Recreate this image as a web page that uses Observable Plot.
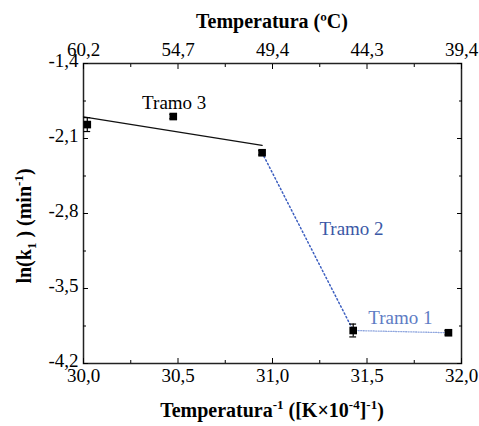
<!DOCTYPE html>
<html><head><meta charset="utf-8">
<script src="https://cdn.jsdelivr.net/npm/d3@7"></script>
<script src="https://cdn.jsdelivr.net/npm/@observablehq/plot@0.6"></script>
<style>body{margin:0;background:#fff} #chart svg, #chart svg text{font-family:"Liberation Serif","Times New Roman",serif}</style>
</head><body><div id="chart"></div>
<script>
const invT = [30.02, 30.475, 30.945, 31.427, 31.931];
const lnK = [-1.97, -1.895, -2.233, -3.892, -3.913];
const errK = [0.065, 0.02, 0.02, 0.06, 0.02];
const xTicks = [30.0, 30.5, 31.0, 31.5, 32.0];
const xMinor = [30.25, 30.75, 31.25, 31.75];
const topLabels = ["60,2", "54,7", "49,4", "44,3", "39,4"];
const yTicks = [-4.2, -3.5, -2.8, -2.1, -1.4];
const yMinor = [-3.85, -3.15, -2.45, -1.75];
const tramo3X = [30.0, 30.945];
const tramo3Y = [-1.898, -2.165];
const labelText = ["Tramo 3", "Tramo 2", "Tramo 1"];
const labelX = [30.48, 31.418, 31.677];
const labelY = [-1.764, -2.94, -3.77];
const labelColor = ["#000000", "#3b58a6", "#5e7cc4"];

const pts = invT.map((x, i) => ({x, y: lnK[i], e: errK[i]}));
const seg3 = tramo3X.map((x, i) => ({x, y: tramo3Y[i]}));
const seg2 = [pts[2], pts[3]];
const seg1 = [pts[3], pts[4]];
const labs = labelText.map((t, i) => ({t, x: labelX[i], y: labelY[i], c: labelColor[i]}));
const fmt = d => d.toFixed(1).replace(".", ",");
const FONT = "Liberation Serif, Times New Roman, serif";
const TS = 19;

const plot = Plot.plot({
  width: 479, height: 426,
  marginLeft: 83, marginRight: 18, marginTop: 63, marginBottom: 63,
  style: {fontFamily: FONT, fontSize: "19px", color: "#000", background: "#fff"},
  x: {domain: [30, 32]},
  y: {domain: [-4.2, -1.4]},
  marks: [
    Plot.frame({stroke: "#222", strokeWidth: 1.5}),
    Plot.axisX(xTicks, {anchor: "bottom", tickSize: -5, text: null, label: null}),
    Plot.axisX(xMinor, {anchor: "bottom", tickSize: -3, text: null, label: null}),
    Plot.axisX(xTicks, {anchor: "top", tickSize: -5, text: null, label: null}),
    Plot.axisX(xMinor, {anchor: "top", tickSize: -3, text: null, label: null}),
    Plot.axisY(yTicks, {anchor: "left", tickSize: -5, text: null, label: null}),
    Plot.axisY(yMinor, {anchor: "left", tickSize: -3, text: null, label: null}),
    Plot.axisY(yTicks, {anchor: "right", tickSize: -5, text: null, label: null}),
    Plot.axisY(yMinor, {anchor: "right", tickSize: -3, text: null, label: null}),
    Plot.axisX(xTicks, {anchor: "bottom", tickSize: 0, tickPadding: 5, tickFormat: fmt, label: null, fontSize: TS, fontFamily: FONT, fill: "#000"}),
    Plot.axisX(xTicks, {anchor: "top", tickSize: 0, tickPadding: 8, tickFormat: (d, i) => topLabels[i], label: null, fontSize: TS, fontFamily: FONT, fill: "#000"}),
    Plot.axisY(yTicks, {anchor: "left", tickSize: 0, tickPadding: 5, dy: -3, tickFormat: fmt, label: null, fontSize: TS, fontFamily: FONT, fill: "#000"}),
    Plot.line(seg3, {x: "x", y: "y", stroke: "#111", strokeWidth: 1.3}),
    Plot.line(seg2, {x: "x", y: "y", stroke: "#3d5fc0", strokeWidth: 1.5, strokeDasharray: "1.5,2.5"}),
    Plot.line(seg1, {x: "x", y: "y", stroke: "#8fa6de", strokeWidth: 1.3, strokeDasharray: "1,1.5"}),
    Plot.ruleX(pts, {x: "x", y1: d => d.y - d.e, y2: d => d.y + d.e, stroke: "#000", strokeWidth: 1.2}),
    Plot.ruleY(pts, {y: d => d.y - d.e, x1: d => d.x - 0.018, x2: d => d.x + 0.018, stroke: "#000", strokeWidth: 1.2}),
    Plot.ruleY(pts, {y: d => d.y + d.e, x1: d => d.x - 0.018, x2: d => d.x + 0.018, stroke: "#000", strokeWidth: 1.2}),
    Plot.dot(pts, {x: "x", y: "y", symbol: "square", r: 4.3, fill: "#000", stroke: null}),
    Plot.text(labs, {x: "x", y: "y", text: "t", fill: "c", fontSize: 19, fontFamily: FONT})
  ]
});

const svg = d3.select(plot);
svg.append("text").attr("x", 272).attr("y", 28).attr("text-anchor", "middle")
  .attr("font-family", FONT).attr("font-size", 20).attr("font-weight", "bold").text("Temperatura (ºC)");

const bt = svg.append("text").attr("x", 272).attr("y", 417).attr("text-anchor", "middle")
  .attr("font-family", FONT).attr("font-size", 20).attr("font-weight", "bold");
bt.append("tspan").text("Temperatura");
bt.append("tspan").attr("font-size", 13).attr("dy", -8).text("-1");
bt.append("tspan").attr("dy", 8).text(" ([K×10");
bt.append("tspan").attr("font-size", 13).attr("dy", -8).text("-4");
bt.append("tspan").attr("dy", 8).text("]");
bt.append("tspan").attr("font-size", 13).attr("dy", -8).text("-1");
bt.append("tspan").attr("dy", 8).text(")");

const yl = svg.append("text").attr("transform", "translate(31,226) rotate(-90)").attr("text-anchor", "middle")
  .attr("font-family", FONT).attr("font-size", 20).attr("font-weight", "bold");
yl.append("tspan").text("ln(k");
yl.append("tspan").attr("font-size", 13).attr("dy", 5).text("1");
yl.append("tspan").attr("dy", -5).text(" ) (min");
yl.append("tspan").attr("font-size", 13).attr("dy", -8).text("-1");
yl.append("tspan").attr("dy", 8).text(")");

document.getElementById("chart").appendChild(plot);
</script></body></html>
